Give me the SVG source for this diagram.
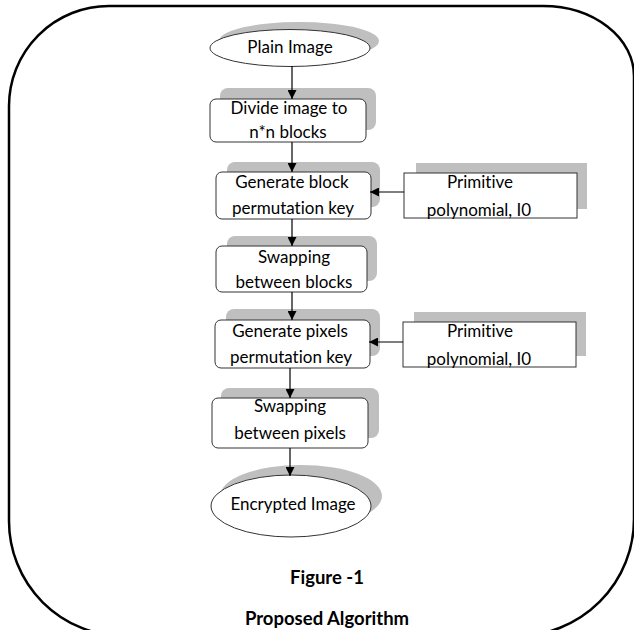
<svg xmlns="http://www.w3.org/2000/svg" width="634" height="630" viewBox="0 0 634 630">
<defs>
<style>
.t{font-family:Lato,"Liberation Sans",sans-serif;font-size:17px;fill:#000;text-anchor:middle;font-variant-ligatures:none}
.b{font-weight:bold;font-size:18.5px}
.sh{fill:#bfbfbf}
.bx{fill:#fff;stroke:#333;stroke-width:1}
.ln{stroke:#000;stroke-width:1.2;fill:none}
</style>
<marker id="ah" viewBox="0 0 10 10" refX="10" refY="5" markerWidth="10" markerHeight="9" markerUnits="userSpaceOnUse" orient="auto">
<path d="M0,0 L10,5 L0,10 z" fill="#000"/>
</marker>
</defs>
<rect x="0" y="0" width="634" height="630" fill="#fff"/>
<path id="frame" d="M9,106 A100 100 0 0 1 109,6 H543 A91 70 0 0 1 634,76 V519 A117 117 0 0 1 517,636 H124 A115 115 0 0 1 9,521 Z" fill="none" stroke="#000" stroke-width="2.5"/>

<g id="plain">
<ellipse class="sh" cx="299" cy="41" rx="80" ry="19"/>
<ellipse class="bx" cx="290" cy="48" rx="80" ry="18.5"/>
<text class="t" x="290" y="53">Plain Image</text>
</g>
<g id="divide">
<rect class="sh" x="220" y="88" width="156" height="42" rx="8"/>
<rect class="bx" x="210" y="99" width="156" height="43" rx="6"/>
<text class="t" x="289" y="114">Divide image to</text>
<text class="t" x="288" y="138">n*n blocks</text>
</g>
<g id="genblock">
<rect class="sh" x="227" y="162" width="153" height="45" rx="8"/>
<rect class="bx" x="216" y="172" width="155" height="47" rx="6"/>
<text class="t" x="292" y="188">Generate block</text>
<text class="t" x="293" y="214">permutation key</text>
</g>
<g id="prim1">
<rect class="sh" x="416" y="163" width="171" height="46"/>
<rect class="bx" x="404" y="173" width="173" height="45"/>
<text class="t" x="480" y="188">Primitive</text>
<text class="t" x="479" y="216">polynomial, I0</text>
</g>
<g id="swapblocks">
<rect class="sh" x="227" y="236" width="150" height="45" rx="8"/>
<rect class="bx" x="216" y="246" width="151" height="46" rx="6"/>
<text class="t" x="294" y="263">Swapping</text>
<text class="t" x="294" y="288">between blocks</text>
</g>
<g id="genpixels">
<rect class="sh" x="226" y="309" width="154" height="47" rx="8"/>
<rect class="bx" x="215" y="320" width="155" height="48" rx="6"/>
<text class="t" x="290" y="337">Generate pixels</text>
<text class="t" x="291" y="363">permutation key</text>
</g>
<g id="prim2">
<rect class="sh" x="414" y="312" width="172" height="44"/>
<rect class="bx" x="403" y="322" width="173" height="45"/>
<text class="t" x="480" y="337">Primitive</text>
<text class="t" x="479" y="365">polynomial, I0</text>
</g>
<g id="swappixels">
<rect class="sh" x="221" y="388" width="158" height="50" rx="8"/>
<rect class="bx" x="212" y="398" width="156" height="50" rx="6"/>
<text class="t" x="290" y="412">Swapping</text>
<text class="t" x="290" y="439">between pixels</text>
</g>
<g id="encrypted">
<ellipse class="sh" cx="301" cy="496" rx="81" ry="31"/>
<ellipse class="bx" cx="291" cy="506" rx="80" ry="31"/>
<text class="t" x="293" y="510">Encrypted Image</text>
</g>
<g id="caption">
<text class="t b" x="327" y="584">Figure -1</text>
<text class="t b" x="327" y="625">Proposed Algorithm</text>
</g>

<g id="connectors">
<line class="ln" x1="292" y1="66" x2="292" y2="99" marker-end="url(#ah)"/>
<line class="ln" x1="292" y1="142" x2="292" y2="172" marker-end="url(#ah)"/>
<line class="ln" x1="292" y1="219" x2="292" y2="246" marker-end="url(#ah)"/>
<line class="ln" x1="292" y1="292" x2="292" y2="320" marker-end="url(#ah)"/>
<line class="ln" x1="290" y1="368" x2="290" y2="398" marker-end="url(#ah)"/>
<line class="ln" x1="290" y1="448" x2="290" y2="476" marker-end="url(#ah)"/>
<line class="ln" x1="404" y1="192" x2="370" y2="192" marker-end="url(#ah)"/>
<line class="ln" x1="403" y1="342" x2="369" y2="342" marker-end="url(#ah)"/>
</g>
</svg>
